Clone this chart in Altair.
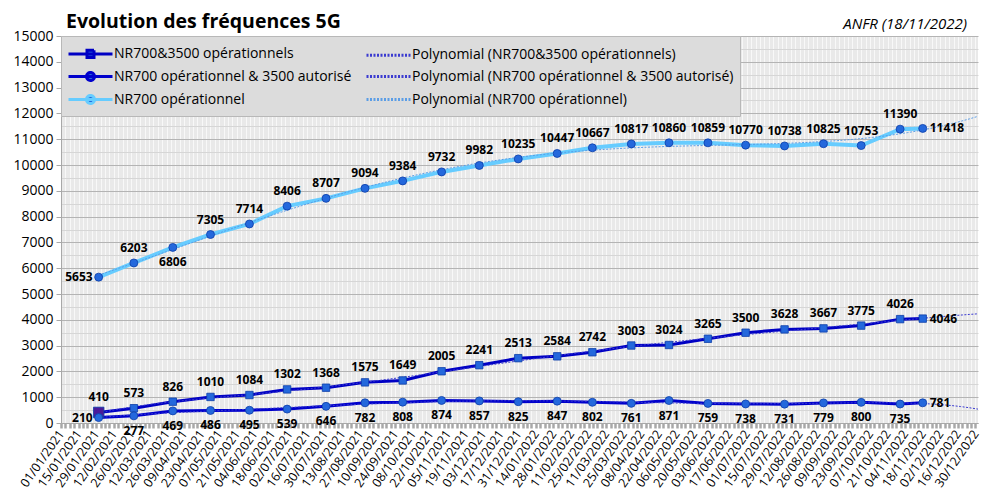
import altair as alt
import pandas as pd

# ---------------- data ----------------
DATES = ["2021-01-31", "2021-02-28", "2021-03-31", "2021-04-30", "2021-05-31", "2021-06-30",
         "2021-07-31", "2021-08-31", "2021-09-30", "2021-10-31", "2021-11-30", "2021-12-31",
         "2022-01-31", "2022-02-28", "2022-03-31", "2022-04-30", "2022-05-31", "2022-06-30",
         "2022-07-31", "2022-08-31", "2022-09-30", "2022-10-31", "2022-11-18"]

NAME_A = "NR700&3500 opérationnels"
NAME_B = "NR700 opérationnel & 3500 autorisé"
NAME_C = "NR700 opérationnel"

VAL_A = [410, 573, 826, 1010, 1084, 1302, 1368, 1575, 1649, 2005, 2241, 2513,
         2584, 2742, 3003, 3024, 3265, 3500, 3628, 3667, 3775, 4026, 4046]
VAL_B = [210, 277, 469, 486, 495, 539, 646, 782, 808, 874, 857, 825,
         847, 802, 761, 871, 759, 738, 731, 779, 800, 735, 781]
VAL_C = [5653, 6203, 6806, 7305, 7714, 8406, 8707, 9094, 9384, 9732, 9982, 10235,
         10447, 10667, 10817, 10860, 10859, 10770, 10738, 10825, 10753, 11390, 11418]

# label placement codes (a=above, b=below, l=left, r=right)
POS_A = ["a"] * 22 + ["r"]
POS_B = ["l"] + ["b"] * 21 + ["r"]
POS_C = ["l", "a", "b"] + ["a"] * 19 + ["r"]

TITLE = "Evolution des fréquences 5G"
SOURCE = "ANFR (18/11/2022)"

AXIS_DAYS = 730
ORDER = {"A": 6, "B": 6, "C": 4}

# ---------------- table ----------------
days = list((pd.to_datetime(DATES) - pd.Timestamp("2021-01-01")).days)
rows = []
for key, vals, pos in (("A", VAL_A, POS_A), ("B", VAL_B, POS_B), ("C", VAL_C, POS_C)):
    for i, (d, v, p) in enumerate(zip(days, vals, pos)):
        rows.append({"series": key, "i": i, "d": d, "v": v, "pos": p})
df = pd.DataFrame(rows)

FONT = "Open Sans"

x_axis = alt.Axis(
    values=[i * 3.5 for i in range(209)],
    labelExpr="(datum.value % 14 === 0) ? timeFormat(datetime(2021, 0, 1 + datum.value), '%d/%m/%Y') : ''",
    labelOverlap=False, labelFlush=False, labelAngle=305, labelAlign="right", labelBaseline="middle",
    labelFont=FONT, labelFontSize=12.5, labelColor="#000000", labelPadding=3,
    tickColor="#a8a8a8", tickSize=5, tickWidth=2.5,
    domainColor="#a8a8a8", grid=True, gridColor="#f8f8f8", gridWidth=1, title=None,
)
y_axis = alt.Axis(
    values=list(range(0, 15001, 500)),
    labelExpr="datum.value % 1000 === 0 ? datum.label : ''",
    format="d", labelOverlap=False,
    labelFont=FONT, labelFontSize=14, labelColor="#000000", labelPadding=3,
    tickSize=5,
    tickColor={"condition": {"test": "datum.value % 1000 === 0", "value": "#a8a8a8"}, "value": "transparent"},
    gridColor={"condition": {"test": "datum.value % 1000 === 0", "value": "#b4b4b4"}, "value": "#d6d6d6"},
    domainColor="#a8a8a8", title=None,
)

X = alt.X("d:Q", scale=alt.Scale(domain=[0, AXIS_DAYS], nice=False, zero=False), axis=x_axis)
Y = alt.Y("v:Q", scale=alt.Scale(domain=[0, 15000], nice=False), axis=y_axis)

base = alt.Chart(df)

LINE_COL = {"A": "#0000c4", "B": "#0000cc", "C": "#66ccff"}
LINE_W = {"A": 3, "B": 3, "C": 4}
TREND_COL = {"A": "#3b3bd0", "B": "#3b3bd0", "C": "#5b9de6"}

layers = []
for s in ("A", "B", "C"):
    layers.append(
        base.transform_filter(f"datum.series === '{s}'")
        .mark_line(color=LINE_COL[s], strokeWidth=LINE_W[s])
        .encode(x=X, y=Y)
    )
for s in ("A", "B", "C"):
    layers.append(
        base.transform_filter(f"datum.series === '{s}'")
        .transform_calculate(yr="datum.d / 365")
        .transform_regression("yr", "v", method="poly", order=ORDER[s], extent=[30 / 365, AXIS_DAYS / 365])
        .transform_calculate(d="datum.yr * 365")
        .mark_line(color=TREND_COL[s], strokeWidth=1, strokeDash=[2, 1.5])
        .encode(x=X, y=Y)
    )

MARK_FILL = "#2468dc"
MARK_STROKE = "#0c3da8"
layers.append(
    base.transform_filter("datum.series === 'A'")
    .mark_point(filled=True, shape="square", stroke=MARK_STROKE, strokeWidth=0.8, opacity=1)
    .encode(
        x=X, y=Y,
        fill=alt.condition("datum.i === 0", alt.value("#4a1a9a"), alt.value(MARK_FILL)),
        size=alt.condition("datum.i === 0", alt.value(110), alt.value(55)),
    )
)
layers.append(
    base.transform_filter("datum.series !== 'A'")
    .mark_point(filled=True, shape="circle", size=64, color=MARK_FILL, stroke=MARK_STROKE,
                strokeWidth=0.8, opacity=1)
    .encode(x=X, y=Y)
)

txt = dict(font=FONT, fontSize=12, fontWeight="bold", color="#000000")
for code, extra in (("a", dict(dy=-15, align="center", baseline="middle")),
                    ("b", dict(dy=15, align="center", baseline="middle")),
                    ("l", dict(dx=-6, align="right", baseline="middle")),
                    ("r", dict(dx=7, align="left", baseline="middle"))):
    layers.append(
        base.transform_filter(f"datum.pos === '{code}'")
        .mark_text(**txt, **extra)
        .encode(x=X, y=Y, text=alt.Text("v:Q", format="d"))
    )

# ---------------- legend ----------------
LEG = [NAME_A, NAME_B, NAME_C,
       f"Polynomial ({NAME_A})", f"Polynomial ({NAME_B})", f"Polynomial ({NAME_C})"]
leg_df = pd.DataFrame({"leg": LEG})
SQ = "M-1,0H3.4M0.85,-0.36H1.55V0.36H0.85Z"
CI = "M-1,0H3.4M1.6,0A0.4,0.4 0 1,1 0.8,0A0.4,0.4 0 1,1 1.6,0Z"
PL = "M-1,0H3.4"
leg_shapes = [SQ, CI, CI, PL, PL, PL]
leg_fill = [MARK_FILL, MARK_FILL, MARK_FILL, "transparent", "transparent", "transparent"]
leg_stroke = [LINE_COL["A"], LINE_COL["B"], LINE_COL["C"], TREND_COL["A"], TREND_COL["B"], TREND_COL["C"]]
leg_width = [3, 3, 3, 1, 1, 1]
leg_dash = [[1, 0], [1, 0], [1, 0], [2, 1.5], [2, 1.5], [2, 1.5]]

legend = alt.Legend(
    title=None, orient="top-left", offset=0, columns=2, columnPadding=8, rowPadding=1, padding=6,
    fillColor="#dcdcdc", strokeColor="#b8b8b8", gridAlign="each",
    labelFont=FONT, labelFontSize=14, labelColor="#000000", labelLimit=500, labelOffset=24,
    symbolSize=400, symbolOpacity=1,
)
legend_layer = (
    alt.Chart(leg_df)
    .transform_filter("false")
    .mark_point(filled=True, size=400, opacity=1)
    .encode(
        x=X,
        fill=alt.Fill("leg:N", scale=alt.Scale(domain=LEG, range=leg_fill), legend=legend),
        stroke=alt.Stroke("leg:N", scale=alt.Scale(domain=LEG, range=leg_stroke), legend=legend),
        shape=alt.Shape("leg:N", scale=alt.Scale(domain=LEG, range=leg_shapes), legend=legend),
        strokeWidth=alt.StrokeWidth("leg:N", scale=alt.Scale(domain=LEG, range=leg_width), legend=legend),
        strokeDash=alt.StrokeDash("leg:N", scale=alt.Scale(domain=LEG, range=leg_dash), legend=legend),
    )
)
layers.append(legend_layer)

title_layer = (
    alt.Chart(pd.DataFrame({"t": [TITLE]}))
    .mark_text(align="left", baseline="alphabetic", font=FONT, fontSize=19.5, fontWeight="bold", color="#000000")
    .encode(text="t:N", x=alt.value(5), y=alt.value(-8))
)
source_layer = (
    alt.Chart(pd.DataFrame({"t": [SOURCE]}))
    .mark_text(align="right", baseline="alphabetic", font=FONT, fontSize=15, fontStyle="italic", color="#000000")
    .encode(text="t:N", x=alt.value(906), y=alt.value(-7))
)
layers += [title_layer, source_layer]

chart = (
    alt.layer(*layers)
    .properties(width=917, height=387,
                padding={"left": 53, "top": 28, "right": 17, "bottom": 68},
                autosize=alt.AutoSizeParams(type="none"))
    .configure_view(fill="#e9e9e9", strokeWidth=0)
)

chart.save("out.html", embed_options={"renderer": "svg", "actions": False})
